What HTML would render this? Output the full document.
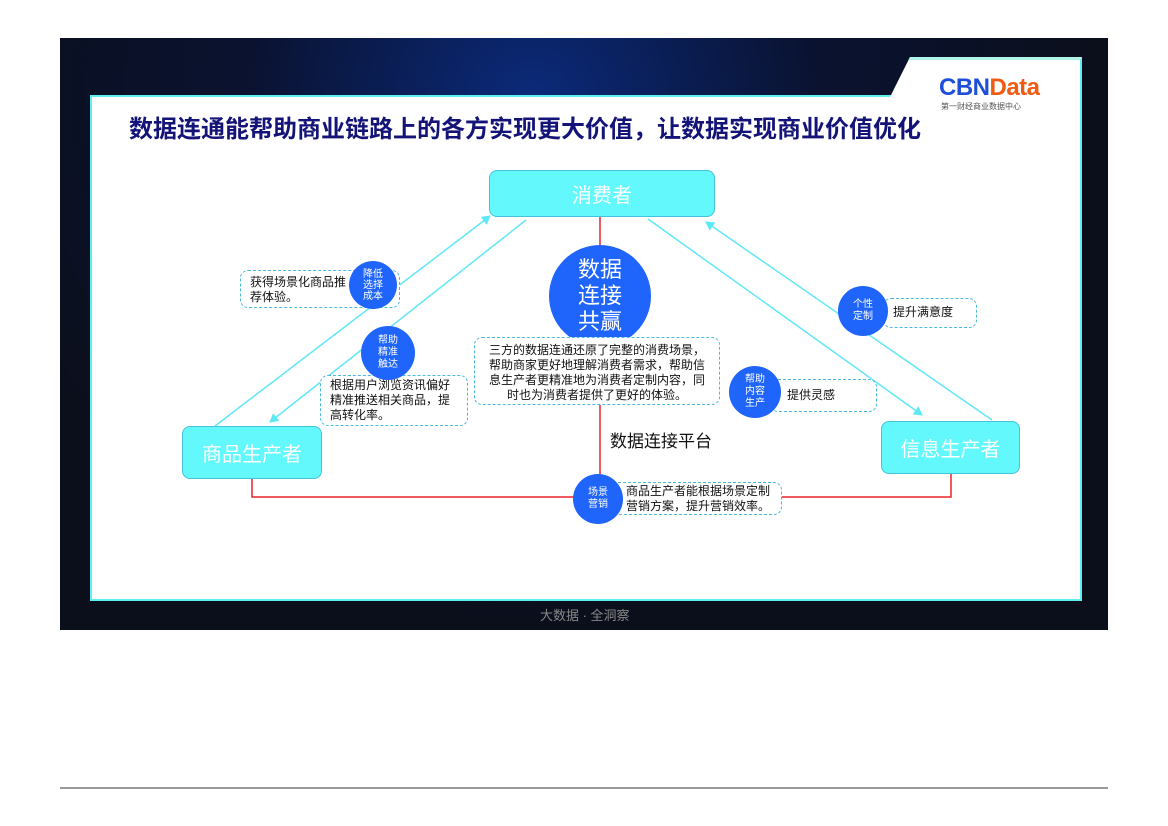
<!DOCTYPE html>
<html><head><meta charset="utf-8"><style>
*{margin:0;padding:0;box-sizing:border-box}
body{width:1168px;height:826px;background:#fff;position:relative;overflow:hidden;font-family:"Liberation Sans","Noto Sans CJK SC",sans-serif}
.a{position:absolute}
.bg{left:60px;top:38px;width:1048px;height:592px;background:radial-gradient(ellipse at 45% 10%,#0b2a7a 0%,#0a1230 35%,#0b0f1c 70%)}
.panel{left:90px;top:95px;width:992px;height:506px;background:#fff;border:2px solid #5ef0f0}
.tab{left:880px;top:57px;width:202px;height:60px;background:#fff;border-top:3px solid #aef5e8;border-right:2px solid #5ef0f0;clip-path:polygon(30px 0,100% 0,100% 100%,0 100%)}
.box{background:#62f8fc;border:1px solid #45c3d8;border-radius:8px;color:#fff;display:flex;align-items:center;justify-content:center}
.dash{background:#fff;border:1.5px dashed #4bb8dd;border-radius:8px;font-size:12px;color:#111;line-height:15px}
.c{background:#1f64fb;border-radius:50%;color:#fff;display:flex;align-items:center;justify-content:center;text-align:center}
</style></head><body>
<div class="a bg"></div>
<div class="a panel"></div>
<div class="a tab"></div>
<div class="a" style="left:939px;top:74px;font-size:24px;font-weight:bold;letter-spacing:-0.5px"><span style="color:#1f4fd8">CBN</span><span style="color:#f05a12">Data</span></div>
<div class="a" style="left:941px;top:101px;font-size:8px;color:#555">第一财经商业数据中心</div>
<div class="a" style="left:129px;top:109px;font-size:24px;font-weight:bold;color:#141478;white-space:nowrap">数据连通能帮助商业链路上的各方实现更大价值，让数据实现商业价值优化</div>
<svg class="a" style="left:0;top:0" width="1168" height="826">
<defs><marker id="m" markerWidth="10" markerHeight="10" refX="8" refY="5" orient="auto" markerUnits="userSpaceOnUse"><path d="M0,0 L9,5 L0,10 Z" fill="#5ee8f6"/></marker></defs>
<g stroke="#5ee8f6" stroke-width="1.5" fill="none">
<line x1="215" y1="426" x2="490" y2="216" marker-end="url(#m)"/>
<line x1="526" y1="220" x2="270" y2="422" marker-end="url(#m)"/>
<line x1="648" y1="219" x2="922" y2="415" marker-end="url(#m)"/>
<line x1="992" y1="420" x2="706" y2="222" marker-end="url(#m)"/>
</g>
<g stroke="#e8232a" stroke-width="1.5" fill="none">
<line x1="600" y1="217" x2="600" y2="480"/>
<polyline points="252,479 252,497 580,497"/>
<polyline points="780,497 951,497 951,474"/>
</g>
<line x1="60" y1="788" x2="1108" y2="788" stroke="#333" stroke-width="1"/>
</svg>
<div class="a box" style="left:489px;top:170px;width:226px;height:47px;font-size:20px">消费者</div>
<div class="a box" style="left:182px;top:426px;width:140px;height:53px;font-size:20px">商品生产者</div>
<div class="a box" style="left:881px;top:421px;width:139px;height:53px;font-size:20px">信息生产者</div>
<div class="a c" style="left:549px;top:245px;width:102px;height:102px;font-size:22px;line-height:26px">数据<br>连接<br>共赢</div>
<div class="a dash" style="left:240px;top:270px;width:160px;height:38px;padding:4px 0 0 9px">获得场景化商品推<br>荐体验。</div>
<div class="a dash" style="left:320px;top:375px;width:148px;height:51px;padding:2px 0 0 9px">根据用户浏览资讯偏好<br>精准推送相关商品，提<br>高转化率。</div>
<div class="a dash" style="left:474px;top:337px;width:246px;height:68px;padding:5px 2px 0 2px;text-align:center">三方的数据连通还原了完整的消费场景，<br>帮助商家更好地理解消费者需求，帮助信<br>息生产者更精准地为消费者定制内容，同<br>时也为消费者提供了更好的体验。</div>
<div class="a dash" style="left:770px;top:379px;width:107px;height:33px;padding:8px 0 0 16px">提供灵感</div>
<div class="a dash" style="left:883px;top:298px;width:94px;height:30px;padding:6px 0 0 9px">提升满意度</div>
<div class="a dash" style="left:600px;top:482px;width:182px;height:33px;padding:1px 0 0 25px">商品生产者能根据场景定制<br>营销方案，提升营销效率。</div>
<div class="a c" style="left:349px;top:261px;width:48px;height:48px;font-size:10px;line-height:11px">降低<br>选择<br>成本</div>
<div class="a c" style="left:361px;top:326px;width:54px;height:54px;font-size:10px;line-height:12px">帮助<br>精准<br>触达</div>
<div class="a c" style="left:838px;top:286px;width:50px;height:50px;font-size:10px;line-height:12px">个性<br>定制</div>
<div class="a c" style="left:729px;top:366px;width:52px;height:52px;font-size:10px;line-height:12px">帮助<br>内容<br>生产</div>
<div class="a c" style="left:573px;top:474px;width:50px;height:50px;font-size:10px;line-height:12px">场景<br>营销</div>
<div class="a" style="left:610px;top:427px;font-size:17px;color:#111">数据连接平台</div>
<div class="a" style="left:540px;top:605px;font-size:13px;color:#888">大数据 · 全洞察</div>
</body></html>
